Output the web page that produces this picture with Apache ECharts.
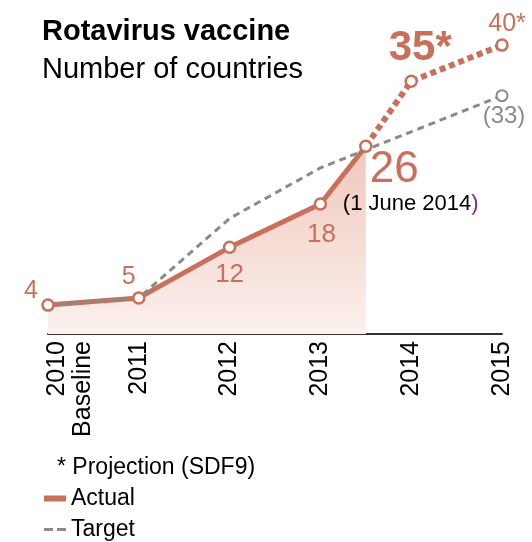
<!DOCTYPE html>
<html>
<head>
<meta charset="utf-8">
<script src="https://cdn.jsdelivr.net/npm/echarts@6/dist/echarts.min.js"></script>
<style>
html,body{margin:0;padding:0;background:#fff;}
#chart{width:532px;height:542px;}
</style>
</head>
<body>
<div id="chart"></div>
<script>
// ---- data ----
const actualYears = [2010, 2011, 2012, 2013, 2013.5];
const actualValues = [4, 5, 12, 18, 26];
const projectionYears = [2013.5, 2014, 2015];
const projectionValues = [26, 35, 40];
const targetYears = [2010, 2011, 2012, 2013, 2014, 2015];
const targetValues = [4, 5, 16, 23, 28, 33];
const tickYears = [2010, 2011, 2012, 2013, 2014, 2015];
const tickLabels = ['2010\nBaseline', '2011', '2012', '2013', '2014', '2015'];
const actualLabels = ['4', '5', '12', '18', '26'];
const projectionLabels = ['35*', '40*'];
const targetEndLabel = '(33)';
const dateNote = '(1 June 2014';
const titleText = 'Rotavirus vaccine';
const subtitleText = 'Number of countries';
const projectionNote = '* Projection (SDF9)';

// ---- styles ----
const ORANGE = '#c8705b';
const GRAY = '#8a8a8a';
const PURPLE = '#7b2c7c';
const FONT = "'Liberation Sans', Arial, sans-serif";

const chart = echarts.init(document.getElementById('chart'), null, {renderer: 'canvas'});

// label placement for marker points (style only)
const actualLabelStyle = [
  {offset: [-17, -14], fontSize: 25},
  {offset: [-10, -21], fontSize: 25},
  {offset: [0, 27], fontSize: 26},
  {offset: [1, 31], fontSize: 26},
  null
];
const projectionLabelStyle = [
  {offset: [9, -33], fontSize: 42, fontWeight: 'bold'},
  {offset: [5, -21], fontSize: 25}
];

const markerData = [];
actualYears.forEach((y, i) => {
  const item = {value: [y, actualValues[i]]};
  const st = actualLabelStyle[i];
  if (st) {
    item.label = Object.assign({show: true, position: 'inside', align: 'center', verticalAlign: 'middle', color: ORANGE, fontFamily: FONT}, st);
    item.labelText = actualLabels[i];
  } else {
    item.label = {
      show: true, position: 'inside', align: 'left', verticalAlign: 'top', offset: [-23, 3],
      fontFamily: FONT,
      rich: {
        big: {fontSize: 44, color: ORANGE, lineHeight: 42, padding: [0, 0, 0, 27], fontFamily: FONT},
        date: {fontSize: 22, color: '#000', lineHeight: 26, fontFamily: FONT},
        paren: {fontSize: 22, color: PURPLE, lineHeight: 26, fontFamily: FONT}
      }
    };
    item.labelText = '{big|' + actualLabels[i] + '}\n{date|' + dateNote + '}{paren|)}';
  }
  markerData.push(item);
});
projectionYears.slice(1).forEach((y, i) => {
  markerData.push({
    value: [y, projectionValues[i + 1]],
    labelText: projectionLabels[i],
    label: Object.assign({show: true, position: 'inside', align: 'center', verticalAlign: 'middle', color: ORANGE, fontFamily: FONT}, projectionLabelStyle[i])
  });
});
const tLast = targetYears.length - 1;
markerData.push({
  value: [targetYears[tLast], targetValues[tLast]],
  labelText: targetEndLabel,
  itemStyle: {borderColor: GRAY, borderWidth: 2},
  label: {show: true, position: 'inside', align: 'center', verticalAlign: 'middle', offset: [2, 21], fontSize: 24, color: GRAY, fontFamily: FONT}
});

const option = {
  animation: false,
  backgroundColor: '#fff',
  title: [
    {
      text: titleText, subtext: subtitleText, left: 42, top: 17, itemGap: 9, padding: 0,
      textStyle: {fontFamily: FONT, fontSize: 29, fontWeight: 'bold', color: '#000'},
      subtextStyle: {fontFamily: FONT, fontSize: 29, color: '#000'}
    },
    {
      text: projectionNote, left: 57, top: 456, padding: 0,
      textStyle: {fontFamily: FONT, fontSize: 23, fontWeight: 'normal', color: '#000'}
    }
  ],
  legend: {
    orient: 'vertical', left: 44, top: 487, padding: 0,
    itemWidth: 22, itemHeight: 6, itemGap: 8, selectedMode: false,
    textStyle: {fontFamily: FONT, fontSize: 23, color: '#000'},
    data: [
      {name: 'Actual', icon: 'rect'},
      {name: 'Target', icon: 'path://M0,0h0.01v0.01h-0.01Z M0,1.5H9V4.5H0Z M13,1.5H22V4.5H13Z M21.99,5.99h0.01v0.01h-0.01Z',
       itemStyle: {color: GRAY, borderWidth: 0}}
    ]
  },
  grid: {left: 47, right: 30, top: 9, bottom: 208},
  xAxis: {
    type: 'value', min: 2010, max: 2015, interval: 1,
    axisLine: {lineStyle: {color: '#333', width: 2}},
    axisTick: {show: false},
    splitLine: {show: false},
    axisLabel: {
      rotate: 90, margin: 7, fontSize: 25, lineHeight: 26, color: '#000', fontFamily: FONT,
      formatter: function (v) {
        const idx = tickYears.indexOf(v);
        if (idx < 0) return '';
        const t = tickLabels[idx];
        return t.indexOf('\n') >= 0 ? '{s|.}\n' + t : t;
      },
      rich: {s: {fontSize: 2, lineHeight: 44, color: 'rgba(0,0,0,0)'}}
    }
  },
  yAxis: {type: 'value', min: 0, max: 45, show: false},
  series: [
    {
      name: 'Actual', type: 'line', clip: false, z: 2,
      data: actualYears.map((y, i) => [y, actualValues[i]]),
      symbol: 'none',
      lineStyle: {color: ORANGE, width: 5},
      itemStyle: {color: ORANGE},
      areaStyle: {
        opacity: 1,
        color: new echarts.graphic.LinearGradient(0, 0, 0, 1, [
          {offset: 0, color: '#efc7bc'},
          {offset: 1, color: '#fcf1ee'}
        ])
      }
    },
    {
      name: 'Projection', type: 'line', clip: false, z: 2,
      data: projectionYears.map((y, i) => [y, projectionValues[i]]),
      symbol: 'none',
      lineStyle: {color: ORANGE, width: 6, type: [6, 4], cap: 'butt'}
    },
    {
      name: 'Target', type: 'line', clip: false, z: 3,
      data: targetYears.map((y, i) => [y, targetValues[i]]),
      symbol: 'none',
      lineStyle: {color: GRAY, width: 3, type: [7, 5], cap: 'butt'},
      itemStyle: {color: GRAY}
    },
    {
      name: 'Markers', type: 'scatter', clip: false, z: 5,
      symbol: 'circle', symbolSize: 11,
      itemStyle: {color: '#fff', borderColor: ORANGE, borderWidth: 2.5, opacity: 1},
      label: {show: true, formatter: function (p) { return markerData[p.dataIndex].labelText; }},
      data: markerData
    }
  ]
};
chart.setOption(option);
</script>
</body>
</html>
